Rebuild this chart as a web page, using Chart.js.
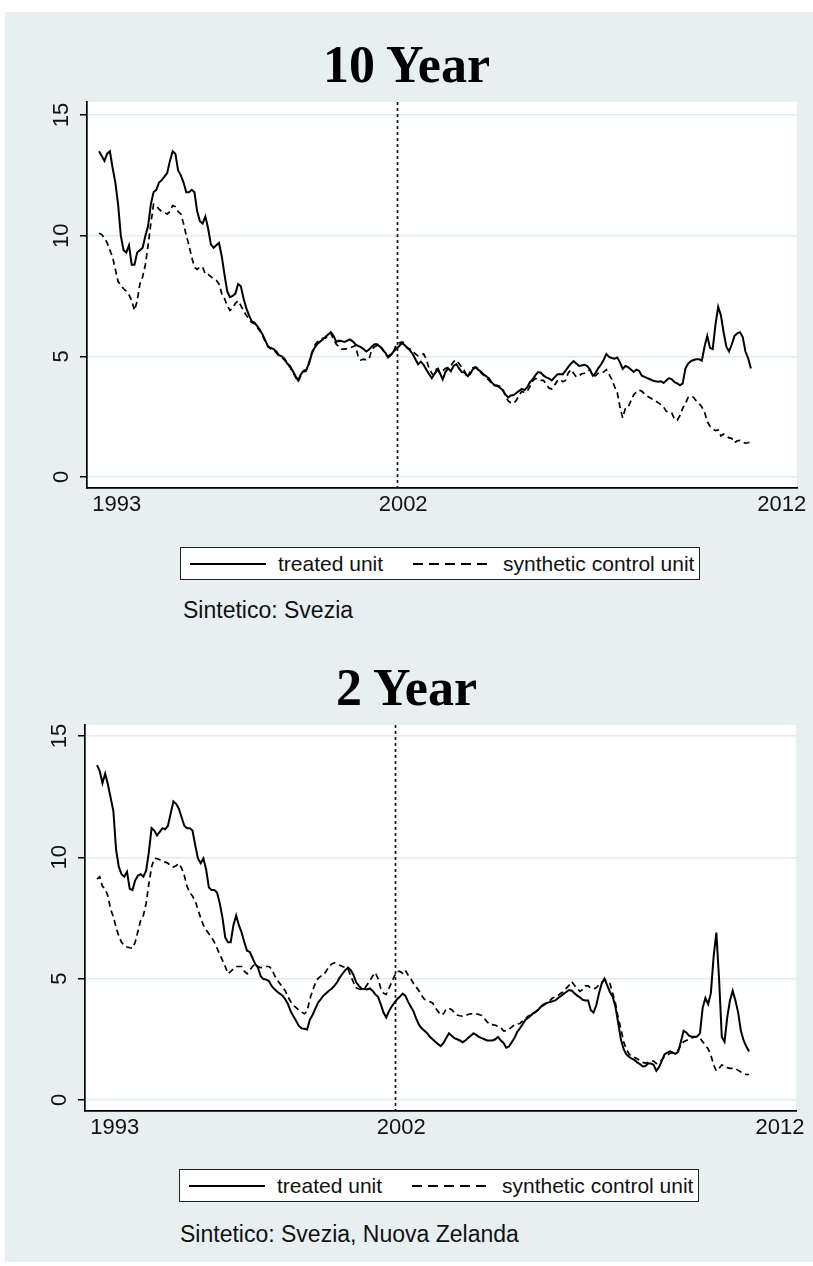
<!DOCTYPE html>
<html>
<head>
<meta charset="utf-8">
<title>10 Year / 2 Year</title>
<script src="https://cdn.jsdelivr.net/npm/chart.js@4.4.1/dist/chart.umd.min.js"></script>
<style>
  html, body { margin: 0; padding: 0; background: #ffffff; }
  body { width: 813px; height: 1266px; position: relative; overflow: hidden;
         font-family: "Liberation Sans", Arial, sans-serif; color: #111; }
  #panel { position: absolute; left: 5px; top: 12px; width: 808px; height: 1250px; background: #e8eff1; }
  .title { position: absolute; left: 0; width: 813px; text-align: center; line-height: 1;
           font-family: "Liberation Serif", "Times New Roman", serif; font-weight: bold; font-size: 52px; color: #000; }
  canvas { position: absolute; left: 0; }
  .legend { position: absolute; width: 520px; height: 33px; box-sizing: border-box;
            background: #fff; border: 1.5px solid #222; font-size: 21px; line-height: 1; }
  .legend .solid, .legend .dash { position: absolute; top: 15px; height: 2px; }
  .legend .solid { background: #000; width: 76px; }
  .legend .dash { width: 74px; background: repeating-linear-gradient(to right, #000 0 10px, transparent 10px 16px); }
  .legend .lbl { position: absolute; top: 5px; white-space: nowrap; }
  .note { position: absolute; font-size: 23px; line-height: 1; white-space: nowrap; }
</style>
</head>
<body>
<div id="panel"></div>

<div class="title" style="top:39px">10 Year</div>
<canvas id="tenYear" width="813" height="440" style="top:90px"></canvas>
<div class="legend" style="left:180px; top:547px">
  <span class="solid" style="left:9px"></span><span class="lbl" style="left:97px">treated unit</span>
  <span class="dash" style="left:232px"></span><span class="lbl" style="left:322px">synthetic control unit</span>
</div>
<div class="note" style="left:183px; top:599px">Sintetico: Svezia</div>

<div class="title" style="top:662px">2 Year</div>
<canvas id="twoYear" width="813" height="440" style="top:713px"></canvas>
<div class="legend" style="left:179px; top:1169px">
  <span class="solid" style="left:9px"></span><span class="lbl" style="left:97px">treated unit</span>
  <span class="dash" style="left:232px"></span><span class="lbl" style="left:322px">synthetic control unit</span>
</div>
<div class="note" style="left:180px; top:1223px">Sintetico: Svezia, Nuova Zelanda</div>

<script>
// Monthly yields (%), January 1993 onward: one value per month.
const tenYearTreated = [
  13.5, 13.3, 13.1, 13.4, 13.5, 12.8, 12.2, 11.3, 10.0, 9.4,
  9.3, 9.6, 8.8, 8.8, 9.3, 9.4, 9.5, 10.0, 10.4, 11.3,
  11.8, 11.9, 12.2, 12.3, 12.45, 12.6, 13.1, 13.5, 13.4, 12.7,
  12.5, 12.2, 11.8, 11.8, 11.9, 11.8, 11.0, 10.6, 10.5, 10.8,
  10.3, 9.65, 9.5, 9.6, 9.7, 9.15, 8.4, 7.7, 7.45, 7.5,
  7.6, 8.0, 7.9, 7.4, 7.0, 6.7, 6.45, 6.4, 6.25, 6.1,
  5.9, 5.65, 5.4, 5.35, 5.3, 5.2, 5.05, 5.0, 4.9, 4.7,
  4.6, 4.4, 4.2, 4.0, 4.25, 4.4, 4.45, 4.7, 5.1, 5.35,
  5.5, 5.6, 5.7, 5.8, 5.9, 6.0, 5.85, 5.6, 5.65, 5.63,
  5.6, 5.65, 5.7, 5.62, 5.5, 5.43, 5.38, 5.3, 5.2, 5.28,
  5.4, 5.5, 5.5, 5.4, 5.28, 5.15, 4.95, 5.05, 5.2, 5.32,
  5.42, 5.55, 5.47, 5.35, 5.25, 5.1, 4.88, 4.67, 4.78, 4.65,
  4.45, 4.27, 4.1, 4.28, 4.45, 4.3, 4.05, 4.35, 4.5, 4.38,
  4.6, 4.68, 4.5, 4.35, 4.33, 4.2, 4.25, 4.45, 4.55, 4.45,
  4.37, 4.25, 4.17, 4.08, 3.92, 3.8, 3.77, 3.7, 3.6, 3.42,
  3.3, 3.38, 3.4, 3.48, 3.57, 3.65, 3.6, 3.72, 3.93, 4.05,
  4.22, 4.35, 4.32, 4.2, 4.13, 4.08, 4.0, 4.13, 4.25, 4.27,
  4.25, 4.4, 4.55, 4.7, 4.8, 4.7, 4.6, 4.62, 4.65, 4.6,
  4.45, 4.2, 4.3, 4.5, 4.65, 4.85, 5.1, 4.98, 4.93, 4.9,
  4.95, 4.75, 4.48, 4.6, 4.55, 4.45, 4.35, 4.45, 4.4, 4.2,
  4.15, 4.1, 4.05, 4.0, 3.97, 3.95, 3.97, 3.9, 4.0, 4.1,
  4.05, 3.93, 3.88, 3.8, 3.88, 4.5, 4.7, 4.8, 4.85, 4.88,
  4.88, 4.82, 5.4, 5.85, 5.35, 5.3, 6.3, 7.05, 6.7, 6.0,
  5.4, 5.2, 5.5, 5.85, 5.95, 6.0, 5.8, 5.2, 4.92, 4.5
];
const tenYearSynthetic = [
  10.1, 10.05, 9.9, 9.7, 9.4, 9.1, 8.6, 8.1, 7.95, 7.8,
  7.7, 7.55, 7.3, 6.9, 7.3, 8.0, 8.3, 8.8, 9.6, 10.5,
  11.3, 11.25, 11.1, 11.0, 10.95, 10.9, 11.0, 11.25, 11.2, 11.0,
  10.9, 10.5, 10.0, 9.6, 9.1, 8.7, 8.6, 8.7, 8.7, 8.4,
  8.4, 8.3, 8.2, 8.15, 8.0, 7.6, 7.4, 7.1, 6.9, 7.0,
  7.2, 7.3, 7.1, 6.9, 6.7, 6.55, 6.4, 6.35, 6.2, 6.05,
  5.85, 5.6, 5.4, 5.3, 5.25, 5.15, 5.0, 4.95, 4.85, 4.7,
  4.55, 4.35, 4.15, 3.95, 4.2, 4.35, 4.4, 4.75, 5.15, 5.45,
  5.6, 5.65, 5.75, 5.75, 5.85, 5.95, 5.7, 5.5, 5.4, 5.3,
  5.3, 5.32, 5.35, 5.4, 5.45, 5.0, 4.85, 4.88, 4.85, 4.9,
  5.25, 5.4, 5.45, 5.45, 5.3, 5.05, 5.0, 5.1, 5.2, 5.5,
  5.55, 5.6, 5.55, 5.35, 5.3, 5.22, 5.1, 5.02, 5.05, 5.1,
  4.88, 4.5, 4.3, 4.15, 4.6, 4.3, 4.4, 4.5, 4.55, 4.6,
  4.78, 4.85, 4.7, 4.55, 4.4, 4.1, 4.35, 4.52, 4.55, 4.5,
  4.32, 4.22, 4.12, 4.0, 3.88, 3.8, 3.8, 3.75, 3.65, 3.35,
  3.15, 3.08, 3.05, 3.18, 3.38, 3.55, 3.5, 3.55, 3.75, 3.98,
  4.08, 4.05, 4.0, 4.0, 3.83, 3.68, 3.65, 3.8, 3.98, 4.05,
  3.95, 4.0, 4.3, 4.45, 4.3, 4.15, 4.2, 4.28, 4.3, 4.4,
  4.45, 4.18, 4.2, 4.3, 4.32, 4.35, 4.45, 4.25, 4.05, 3.75,
  3.5, 2.9, 2.45, 2.85, 2.9, 3.15, 3.4, 3.52, 3.6, 3.55,
  3.45, 3.35, 3.28, 3.22, 3.15, 3.08, 3.0, 2.9, 2.72, 2.68,
  2.65, 2.4, 2.35, 2.55, 2.85, 3.05, 3.3, 3.35, 3.3, 3.15,
  3.05, 2.9, 2.7, 2.3, 2.1, 2.0, 1.92, 1.95, 1.7, 1.78,
  1.7, 1.62, 1.6, 1.42, 1.5, 1.52, 1.45, 1.4, 1.42, 1.45
];
const twoYearTreated = [
  13.8, 13.55, 13.05, 13.45, 13.0, 12.45, 11.9, 10.3, 9.6, 9.3,
  9.2, 9.4, 8.7, 8.65, 9.05, 9.25, 9.3, 9.2, 9.45, 10.2,
  11.2, 11.1, 10.9, 11.05, 11.2, 11.15, 11.3, 11.8, 12.3, 12.2,
  12.0, 11.65, 11.3, 11.2, 11.2, 11.1, 10.5, 9.95, 9.75, 9.95,
  9.5, 8.75, 8.65, 8.65, 8.55, 8.1, 7.5, 6.7, 6.5, 6.5,
  7.2, 7.6, 7.2, 6.9, 6.5, 6.15, 6.1, 5.85, 5.6, 5.45,
  5.1, 4.98, 4.96, 4.9, 4.7, 4.57, 4.47, 4.38, 4.3, 4.15,
  3.95, 3.65, 3.45, 3.25, 3.05, 2.95, 2.93, 2.9, 3.3, 3.5,
  3.75, 4.0, 4.15, 4.3, 4.4, 4.5, 4.58, 4.7, 4.85, 5.05,
  5.2, 5.35, 5.45, 5.35, 5.15, 4.85, 4.7, 4.58, 4.57, 4.55,
  4.6, 4.5, 4.35, 4.25, 3.95, 3.6, 3.4, 3.65, 3.85, 4.0,
  4.15, 4.25, 4.38, 4.3, 4.05, 3.85, 3.65, 3.35, 3.1, 2.95,
  2.85, 2.75, 2.6, 2.5, 2.4, 2.3, 2.22, 2.35, 2.55, 2.75,
  2.65, 2.55, 2.5, 2.45, 2.38, 2.45, 2.55, 2.65, 2.75, 2.68,
  2.6, 2.55, 2.5, 2.45, 2.45, 2.45, 2.5, 2.6, 2.45, 2.35,
  2.15, 2.2, 2.38, 2.55, 2.8, 2.95, 3.12, 3.3, 3.38, 3.48,
  3.58, 3.65, 3.75, 3.88, 3.96, 4.0, 4.04, 4.07, 4.1, 4.2,
  4.28, 4.37, 4.45, 4.53, 4.5, 4.4, 4.3, 4.23, 4.13, 4.1,
  4.1, 3.7, 3.6, 3.9, 4.4, 4.8, 5.0, 4.72, 4.45, 4.25,
  3.85, 3.2, 2.5, 2.1, 1.88, 1.78, 1.7, 1.65, 1.55, 1.48,
  1.38, 1.4, 1.5, 1.5, 1.45, 1.2, 1.35, 1.6, 1.88, 1.95,
  2.0, 1.95, 1.9, 1.98, 2.4, 2.85, 2.78, 2.65, 2.6, 2.6,
  2.62, 2.75, 3.8, 4.2, 3.95, 4.4, 5.9, 6.9, 5.0, 2.6,
  2.4, 3.4, 4.1, 4.5, 4.1, 3.6, 2.85, 2.45, 2.2, 2.0
];
const twoYearSynthetic = [
  9.1, 9.2, 8.8, 8.7, 8.4, 7.85, 7.55, 7.1, 6.75, 6.5,
  6.35, 6.3, 6.27, 6.25, 6.5, 6.95, 7.4, 7.6, 8.1, 8.9,
  9.6, 9.95, 9.95, 9.9, 9.85, 9.8, 9.75, 9.65, 9.6, 9.65,
  9.75, 9.55, 9.25, 8.8, 8.55, 8.4, 8.2, 7.85, 7.5, 7.2,
  7.0, 6.85, 6.7, 6.5, 6.25, 6.0, 5.75, 5.5, 5.2, 5.3,
  5.4, 5.5, 5.5, 5.5, 5.3, 5.2, 5.35, 5.5, 5.62, 5.5,
  5.45, 5.48, 5.5, 5.5, 5.4, 5.15, 4.95, 4.8, 4.65, 4.5,
  4.25, 4.05, 3.9, 3.8, 3.7, 3.62, 3.55, 3.65, 4.15, 4.5,
  4.8, 5.0, 5.1, 5.15, 5.3, 5.5, 5.6, 5.65, 5.6, 5.55,
  5.5, 5.45, 5.4, 5.1, 4.85, 4.62, 4.57, 4.55, 4.58, 4.75,
  4.9, 5.1, 5.25, 5.0, 4.6, 4.4, 4.35, 4.6, 4.85, 5.1,
  5.3, 5.3, 5.22, 5.35, 5.15, 5.0, 4.8, 4.65, 4.5, 4.3,
  4.15, 4.1, 4.05, 4.0, 3.8, 3.65, 3.5, 3.55, 3.75, 3.78,
  3.72, 3.6, 3.5, 3.47, 3.45, 3.48, 3.52, 3.55, 3.55, 3.55,
  3.52, 3.48, 3.35, 3.22, 3.1, 3.1, 3.08, 3.03, 2.98, 2.85,
  2.85, 2.92, 3.0, 3.1, 3.13, 3.15, 3.25, 3.35, 3.45, 3.5,
  3.55, 3.65, 3.75, 3.85, 3.92, 4.02, 4.1, 4.2, 4.25, 4.3,
  4.4, 4.47, 4.6, 4.72, 4.88, 4.72, 4.6, 4.47, 4.55, 4.7,
  4.7, 4.6, 4.58, 4.62, 4.75, 4.85, 4.95, 4.9, 4.8, 4.4,
  4.0, 3.4, 2.95, 2.4, 2.1, 1.9, 1.8, 1.75, 1.7, 1.62,
  1.55, 1.52, 1.55, 1.6, 1.6, 1.5, 1.55, 1.65, 1.8, 1.85,
  1.92, 1.95, 1.98, 2.05, 2.25, 2.4, 2.45, 2.5, 2.55, 2.6,
  2.6, 2.55, 2.4, 2.25, 2.1, 1.85, 1.45, 1.2, 1.3, 1.45,
  1.38, 1.33, 1.3, 1.3, 1.3, 1.22, 1.15, 1.1, 1.05, 1.05
];

// Month index on the x axis (0 = first month of 1993).
const months = tenYearTreated.map((_, i) => i);

// Axis ticks and labels.
const xTickPos = [6.5, 111.5, 250.3];
const xTickLabels = ['1993', '2002', '2012'];
const yTicks = [0, 5, 10, 15];
const treatmentMonth = 109.2;   // dotted reference line at the start of 2002
const seriesNames = ['treated unit', 'synthetic control unit'];

const sansFamily = '"Liberation Sans", Arial, sans-serif';

// White plotting region behind the grid and the lines.
const plotBackground = {
  id: 'plotBackground',
  beforeDraw(chart) {
    const { ctx, chartArea: a } = chart;
    ctx.save();
    ctx.fillStyle = '#ffffff';
    ctx.fillRect(a.left, a.top, a.right - a.left, a.bottom - a.top);
    ctx.restore();
  }
};

// Vertical dotted line marking the treatment date.
const treatmentLine = {
  id: 'treatmentLine',
  beforeDatasetsDraw(chart, args, opts) {
    const { ctx, chartArea: a, scales: { x } } = chart;
    const px = Math.round(x.getPixelForValue(opts.value)) + 0.5;
    ctx.save();
    ctx.strokeStyle = '#1a1a1a';
    ctx.lineWidth = 1.7;
    ctx.setLineDash([3, 3]);
    ctx.beginPath();
    ctx.moveTo(px, a.top);
    ctx.lineTo(px, a.bottom);
    ctx.stroke();
    ctx.restore();
  }
};

// Y tick labels written vertically, reading upward.
const verticalYLabels = {
  id: 'verticalYLabels',
  afterDraw(chart, args, opts) {
    const { ctx, scales: { y } } = chart;
    ctx.save();
    ctx.font = opts.size + 'px ' + sansFamily;
    ctx.fillStyle = '#111';
    ctx.textAlign = 'center';
    ctx.textBaseline = 'alphabetic';
    yTicks.forEach(v => {
      ctx.save();
      ctx.translate(opts.baselineX, y.getPixelForValue(v));
      ctx.rotate(-Math.PI / 2);
      ctx.fillText(String(v), 0, 0);
      ctx.restore();
    });
    ctx.restore();
  }
};

function buildChart(canvasId, treated, synthetic, frame) {
  return new Chart(document.getElementById(canvasId), {
    type: 'line',
    data: {
      datasets: [
        {
          label: seriesNames[0],
          data: months.map((m, i) => ({ x: m, y: treated[i] })),
          borderColor: '#000',
          borderWidth: 2,
          pointRadius: 0,
          tension: 0,
          fill: false
        },
        {
          label: seriesNames[1],
          data: months.map((m, i) => ({ x: m, y: synthetic[i] })),
          borderColor: '#000',
          borderWidth: 1.7,
          borderDash: [6, 4],
          pointRadius: 0,
          tension: 0,
          fill: false
        }
      ]
    },
    options: {
      responsive: false,
      animation: false,
      devicePixelRatio: 1,
      events: [],
      layout: { padding: { left: 0, right: frame.padRight, top: 12, bottom: 0 } },
      plugins: {
        legend: { display: false },
        tooltip: { enabled: false },
        treatmentLine: { value: treatmentMonth },
        verticalYLabels: { size: 22, baselineX: frame.labelX }
      },
      scales: {
        x: {
          type: 'linear',
          min: frame.xMin,
          max: frame.xMax,
          afterBuildTicks: s => { s.ticks = xTickPos.map(v => ({ value: v })); },
          afterFit: s => { s.height = frame.xAxisHeight; },
          ticks: {
            callback: (v, i) => xTickLabels[i],
            autoSkip: false,
            minRotation: 0,
            maxRotation: 0,
            padding: 4,
            color: '#111',
            font: { family: sansFamily, size: 22 }
          },
          grid: { display: true, drawOnChartArea: false, drawTicks: false },
          border: { display: true, color: '#000', width: 1.7 }
        },
        y: {
          min: frame.yMin,
          max: frame.yMax,
          afterBuildTicks: s => { s.ticks = yTicks.map(v => ({ value: v })); },
          afterFit: s => { s.width = frame.yAxisWidth; },
          ticks: { display: false },
          grid: {
            color: '#e2ecef',
            lineWidth: 1.5,
            drawTicks: true,
            tickLength: 7,
            tickColor: '#000',
            tickWidth: 1.5
          },
          border: { display: true, color: '#000', width: 1.7 }
        }
      }
    },
    plugins: [plotBackground, treatmentLine, verticalYLabels]
  });
}

buildChart('tenYear', tenYearTreated, tenYearSynthetic, {
  padRight: 16, yAxisWidth: 87, xAxisHeight: 42, labelX: 68,
  xMin: -4.4, xMax: 255.9, yMin: -0.456, yMax: 15.54
});
buildChart('twoYear', twoYearTreated, twoYearSynthetic, {
  padRight: 17, yAxisWidth: 85, xAxisHeight: 42, labelX: 66,
  xMin: -4.4, xMax: 256.2, yMin: -0.455, yMax: 15.45
});
</script>
</body>
</html>
